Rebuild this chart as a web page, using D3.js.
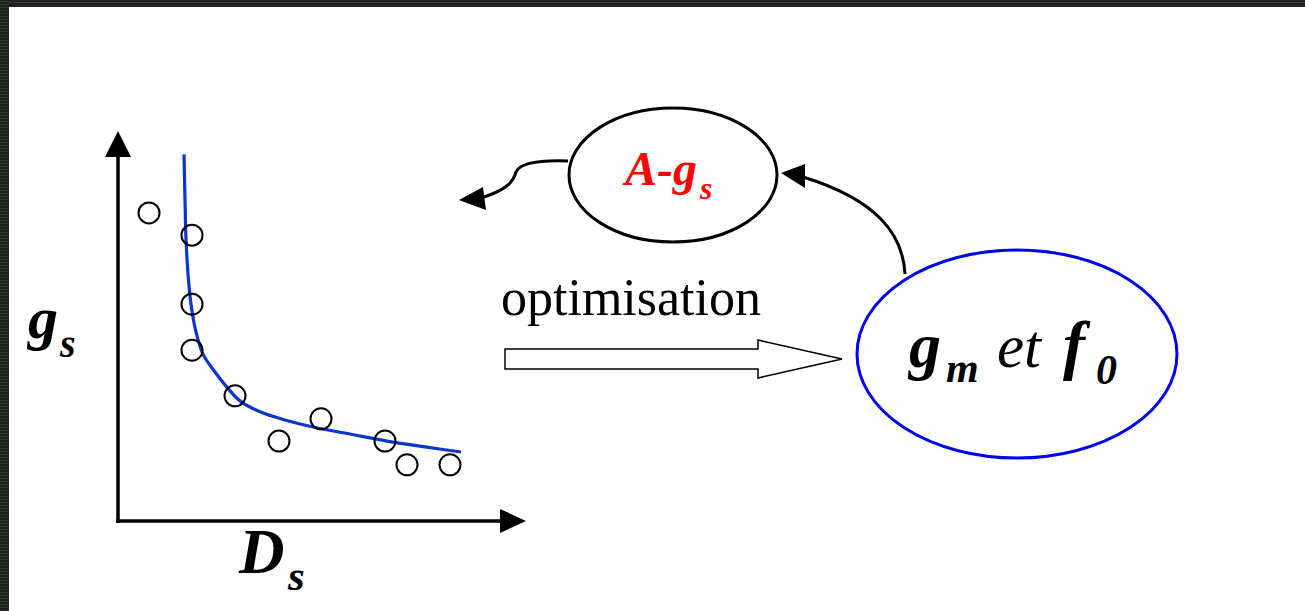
<!DOCTYPE html>
<meta charset="utf-8">
<body style="margin:0">
<script src="https://cdn.jsdelivr.net/npm/d3@7"></script>
<script>
// measured points (arbitrary units, 0-100 on both axes)
var pointsX = [7.75, 18.5, 18.5, 18.5, 29.25, 40.25, 50.75, 66.75, 72.25, 83];
var pointsY = [79, 73.3, 55.6, 43.8, 32.1, 20.5, 26.2, 20.5, 14.4, 14.4];

// fitted curve
var curveX = [16.5, 16.75, 17, 17.5, 18.25, 19.5, 21.25, 23.75, 26.75, 30.5, 35.5, 41.75, 48.75, 58, 67.25, 76.75, 85.75];
var curveY = [94, 82.5, 72.3, 63.3, 55.6, 48.5, 42.8, 38.9, 34.9, 30.8, 28, 25.9, 24.1, 22.3, 20.5, 19, 17.7];

var W = 1305, H = 611;
var svg = d3.select('body').append('svg')
  .attr('width', W)
  .attr('height', H)
  .style('display', 'block');

svg.append('rect').attr('width', W).attr('height', H).attr('fill', '#fff');

// text helper
function lbl(tx, ty, s, size, opts) {
  opts = opts || {};
  return svg.append('text')
    .attr('x', tx).attr('y', ty)
    .style('font-family', "'Liberation Serif'")
    .attr('font-size', size)
    .attr('font-style', opts.style || 'italic')
    .attr('font-weight', opts.weight || 'bold')
    .attr('fill', opts.fill || '#000')
    .text(s);
}

// dark frame on top / left
svg.append('rect').attr('x', 0).attr('y', 0).attr('width', W).attr('height', 7).attr('fill', '#1f201f');
svg.append('rect').attr('x', 0).attr('y', 2).attr('width', W).attr('height', 1).attr('fill', '#3a3f3a');
svg.append('rect').attr('x', 0).attr('y', 0).attr('width', 9).attr('height', H).attr('fill', '#1f211e');
svg.selectAll('line.stripe')
  .data(d3.range(1, H, 3))
  .enter().append('line')
  .attr('class', 'stripe')
  .attr('x1', 0).attr('x2', 9)
  .attr('y1', function(d) { return d + 0.5; })
  .attr('y2', function(d) { return d + 0.5; })
  .attr('stroke', '#2c3a27').attr('stroke-width', 1);

var x = d3.scaleLinear().domain([0, 100]).range([118, 518]);
var y = d3.scaleLinear().domain([0, 100]).range([521, 131]);

// axis labels
lbl(28, 338, 'g', 60);
lbl(60, 357, 's', 40);
lbl(239, 573, 'D', 63);
lbl(288, 590, 's', 43);

// axes with arrow heads
var ax = svg.append('g');
ax.append('line')
  .attr('x1', x(0)).attr('x2', x(0))
  .attr('y1', y(0) + 2).attr('y2', 155)
  .attr('stroke', '#000').attr('stroke-width', 3.5);
ax.append('path')
  .attr('d', 'M' + x(0) + ',131 L' + (x(0) - 13) + ',157 L' + (x(0) + 13) + ',157 Z')
  .attr('fill', '#000');
ax.append('line')
  .attr('x1', x(0) - 2).attr('x2', 502)
  .attr('y1', y(0)).attr('y2', y(0))
  .attr('stroke', '#000').attr('stroke-width', 3.5);
ax.append('path')
  .attr('d', 'M526,' + y(0) + ' L500,' + (y(0) - 12) + ' L500,' + (y(0) + 12) + ' Z')
  .attr('fill', '#000');

// fitted curve
var line = d3.line()
  .x(function(d) { return x(d[0]); })
  .y(function(d) { return y(d[1]); })
  .curve(d3.curveCatmullRom);
svg.append('path')
  .datum(d3.zip(curveX, curveY))
  .attr('d', line)
  .attr('fill', 'none')
  .attr('stroke', '#0a36cc')
  .attr('stroke-width', 3.2);

// measured points
svg.selectAll('circle.pt')
  .data(d3.zip(pointsX, pointsY))
  .enter().append('circle')
  .attr('class', 'pt')
  .attr('cx', function(d) { return x(d[0]); })
  .attr('cy', function(d) { return y(d[1]); })
  .attr('r', 10.5)
  .attr('fill', 'none')
  .attr('stroke', '#000')
  .attr('stroke-width', 2);

// optimisation arrow
lbl(501, 315, 'optimisation', 52, {style: 'normal', weight: 'normal'});
svg.append('path')
  .attr('d', 'M505,349 L758,349 L758,340 L842,359 L758,378 L758,369 L505,369 Z')
  .attr('fill', '#fff')
  .attr('stroke', '#000')
  .attr('stroke-width', 1.5);

// small ellipse A-gs
svg.append('ellipse')
  .attr('cx', 673).attr('cy', 175).attr('rx', 104).attr('ry', 67)
  .attr('fill', 'none').attr('stroke', '#000').attr('stroke-width', 3);
lbl(625, 185, 'A-g', 48, {fill: '#ff0000'});
lbl(700, 199, 's', 32, {fill: '#ff0000'});

// squiggly arrow out of small ellipse
svg.append('path')
  .attr('d', 'M568,161 C540,160 520,163 516,172 C513,183 505,190 484,197')
  .attr('fill', 'none').attr('stroke', '#000').attr('stroke-width', 3);
svg.append('path')
  .attr('d', 'M459,200 L483,187 L486,210 Z')
  .attr('fill', '#000');

// big ellipse gm et f0
svg.append('ellipse')
  .attr('cx', 1017).attr('cy', 354).attr('rx', 160).attr('ry', 104)
  .attr('fill', 'none').attr('stroke', '#0000ee').attr('stroke-width', 3);
lbl(909, 367, 'g', 64);
lbl(946, 382, 'm', 42);
lbl(997, 367, 'et', 61, {weight: 'normal'});
lbl(1063, 367, 'f', 66);
lbl(1096, 384, '0', 42);

// arrow from big ellipse to small one
svg.append('path')
  .attr('d', 'M905,274 C903,235 878,200 803,177')
  .attr('fill', 'none').attr('stroke', '#000').attr('stroke-width', 3);
svg.append('path')
  .attr('d', 'M781,173 L805,164 L805,188 Z')
  .attr('fill', '#000');
</script>
</body>
